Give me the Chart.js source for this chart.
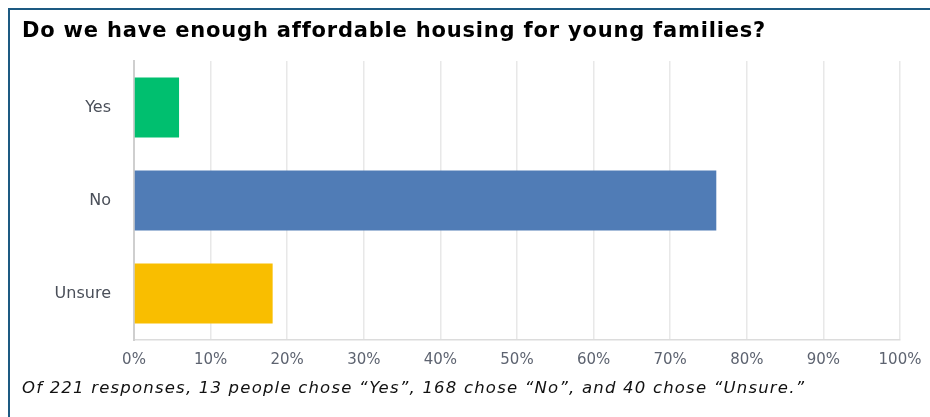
<!DOCTYPE html>
<html>
<head>
<meta charset="utf-8">
<script src="https://cdn.jsdelivr.net/npm/chart.js@4"></script>
<style>
  html, body { margin: 0; padding: 0; background: #fff; }
  #wrap { position: relative; width: 930px; height: 417px; overflow: hidden; }
  #frame {
    position: absolute; left: 8px; top: 8px; width: 940px; height: 430px;
    border-left: 2px solid #1d5a82; border-top: 2px solid #1d5a82;
  }
  #title {
    position: absolute; left: 22px; top: 18px;
    font: bold 21px "DejaVu Sans", sans-serif; color: #000;
    letter-spacing: 0.8px; white-space: nowrap;
  }
  #note {
    position: absolute; left: 22px; top: 378px;
    font: oblique 16.5px "DejaVu Sans", sans-serif; color: #111;
    letter-spacing: 1.2px; white-space: nowrap;
  }
  #chart { position: absolute; left: 0; top: 0; }
</style>
</head>
<body>
<div id="wrap">
  <div id="frame"></div>
  <canvas id="chart" width="930" height="417"></canvas>
  <div id="title">Do we have enough affordable housing for young families?</div>
  <div id="note">Of 221 responses, 13 people chose “Yes”, 168 chose “No”, and 40 chose “Unsure.”</div>
</div>
<script>
// Survey answers
const answers = ["Yes", "No", "Unsure"];
const counts = [13, 168, 40];
const totalResponses = 221;
const barColors = ["#00bf6f", "#507cb6", "#f9be00"];
const percentTicks = [0, 10, 20, 30, 40, 50, 60, 70, 80, 90, 100];

const shares = counts.map(c => c / totalResponses * 100);

const housingChart = new Chart(document.getElementById("chart"), {
  type: "bar",
  data: {
    labels: answers,
    datasets: [{
      data: shares,
      backgroundColor: barColors,
      borderWidth: 0,
      barPercentage: 0.645,
      categoryPercentage: 1
    }]
  },
  options: {
    indexAxis: "y",
    responsive: false,
    animation: false,
    layout: { padding: { left: 0, top: 61, right: 30, bottom: 0 } },
    plugins: { legend: { display: false }, tooltip: { enabled: false } },
    scales: {
      x: {
        min: 0,
        max: 100,
        afterBuildTicks: scale => { scale.ticks = percentTicks.map(v => ({ value: v })); },
        afterFit: scale => {
          scale.height = 77;
          // end labels may hang past the plot edges
          scale.paddingLeft = 0;
          scale.paddingRight = 0;
        },
        grid: { color: "#e8e8e8", lineWidth: 1.5, drawTicks: false },
        border: { color: "#dcdcdc", width: 1.5 },
        ticks: {
          padding: 11,
          color: "#5d6370",
          font: { family: "'DejaVu Sans', sans-serif", size: 15 },
          callback: v => v + "%"
        }
      },
      y: {
        afterFit: scale => { scale.width = 134; },
        grid: { display: false, drawTicks: false },
        border: { color: "#cfcfcf", width: 2 },
        ticks: {
          padding: 23,
          color: "#4a4f59",
          font: { family: "'DejaVu Sans', sans-serif", size: 16 }
        }
      }
    }
  }
});
</script>
</body>
</html>
